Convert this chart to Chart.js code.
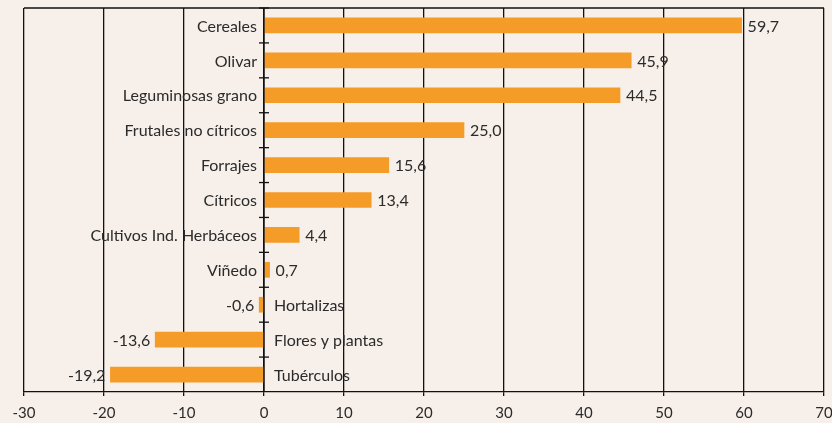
<!DOCTYPE html>
<html><head><meta charset="utf-8">
<script src="https://cdn.jsdelivr.net/npm/chart.js@4/dist/chart.umd.min.js"></script>
<style>
html,body{margin:0;padding:0;background:#F7EFE9;}
#wrap{width:832px;height:423px;position:relative;}
</style></head><body>
<div id="wrap"><canvas id="c" width="832" height="423"></canvas></div>
<script>
const categories = ["Cereales","Olivar","Leguminosas grano","Frutales no cítricos","Forrajes","Cítricos","Cultivos Ind. Herbáceos","Viñedo","Hortalizas","Flores y plantas","Tubérculos"];
const values = [59.7,45.9,44.5,25.0,15.6,13.4,4.4,0.7,-0.6,-13.6,-19.2];
const xTicks = [-30,-20,-10,0,10,20,30,40,50,60,70];

const FONT = "Lato, 'Open Sans', sans-serif";
const TXT = "#2b2b2b";

const labelPlugin = {
  id: 'labels',
  afterDatasetsDraw(chart) {
    const ctx = chart.ctx;
    const xs = chart.scales.x;
    const area = chart.chartArea;
    const zx = xs.getPixelForValue(0);
    ctx.save();
    ctx.strokeStyle = '#111'; ctx.lineWidth = 1.3;
    ctx.beginPath(); ctx.moveTo(area.left, area.top); ctx.lineTo(area.right, area.top); ctx.stroke();
    ctx.beginPath(); ctx.moveTo(zx, area.top); ctx.lineTo(zx, area.bottom); ctx.stroke();
    const n = categories.length;
    const band = (area.bottom - area.top) / n;
    for (let k = 0; k < n; k++) {
      const y = area.top + band * k;
      ctx.beginPath(); ctx.moveTo(zx - 5, y); ctx.lineTo(zx + 5, y); ctx.stroke();
    }
    ctx.font = "16px " + FONT;
    ctx.fillStyle = TXT;
    ctx.textBaseline = 'middle';
    const meta = chart.getDatasetMeta(0);
    meta.data.forEach((bar, i) => {
      const v = values[i];
      const y = bar.y + 1;
      const txt = v.toFixed(1).replace('.', ',');
      if (v >= 0) {
        ctx.textAlign = 'right'; ctx.fillText(categories[i], zx - 7, y);
        ctx.textAlign = 'left'; ctx.fillText(txt, bar.x + 6, y);
      } else {
        ctx.textAlign = 'left'; ctx.fillText(categories[i], zx + 10, y);
        ctx.textAlign = 'right'; ctx.fillText(txt, bar.x - 5, y);
      }
    });
    ctx.restore();
  }
};

new Chart(document.getElementById('c'), {
  type: 'bar',
  data: { labels: categories, datasets: [{ data: values, backgroundColor: '#F59B27', barThickness: 15, borderWidth: 0 }] },
  options: {
    indexAxis: 'y',
    responsive: false,
    animation: false,
    layout: { padding: { left: 24, right: 8, top: 8, bottom: 0 } },
    plugins: { legend: { display: false }, tooltip: { enabled: false } },
    scales: {
      x: {
        min: -30, max: 70,
        afterBuildTicks(s) { s.ticks = xTicks.map(v => ({ value: v })); },
        afterFit(s) { s.paddingLeft = 0; s.paddingRight = 0; s.height = 31; },
        grid: { color: '#111', lineWidth: 1.3, tickLength: 4, tickColor: '#111' },
        border: { color: '#111', width: 1.3 },
        ticks: { color: TXT, font: { size: 15, family: FONT }, padding: 8, maxRotation: 0 }
      },
      y: { display: false }
    }
  },
  plugins: [labelPlugin]
});
</script>
</body></html>
